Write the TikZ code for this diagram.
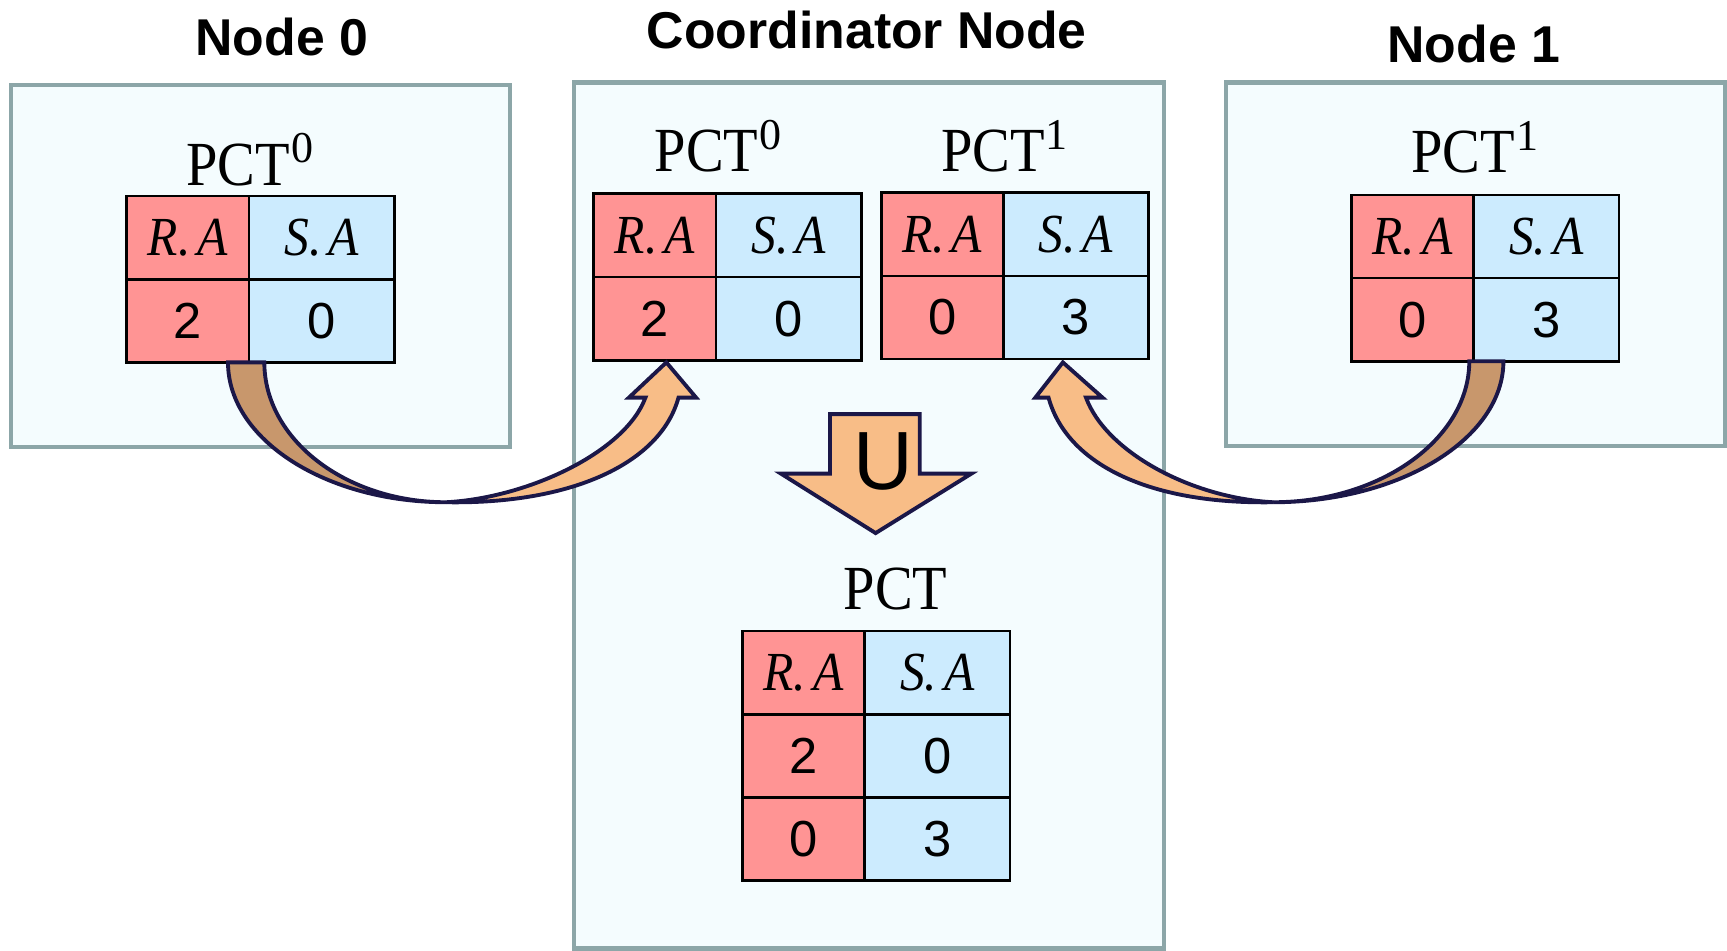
\documentclass[tikz,border=0pt]{standalone}
\usepackage{graphicx}
\usepackage{fontspec}
\newfontfamily\sansfont{Liberation Sans}
\newfontfamily\seriffont{Liberation Serif}
\usetikzlibrary{calc}

\definecolor{boxline}{HTML}{8CA6A8}
\definecolor{boxfill}{HTML}{F4FCFE}
\definecolor{redcell}{HTML}{FF9494}
\definecolor{bluecell}{HTML}{CCEBFE}
\definecolor{arrowfront}{HTML}{F8BD87}
\definecolor{arrowback}{HTML}{C8976C}
\definecolor{arrowline}{HTML}{1B1748}

\tikzset{
  nodebox/.style={draw=boxline, fill=boxfill, line width=4pt, inner sep=0pt, outer sep=0pt},
  title/.style={font=\sansfont\bfseries\fontsize{47}{50}\selectfont, anchor=base, inner sep=0pt},
  tlabel/.style={font=\seriffont\fontsize{57}{60}\selectfont, anchor=base, inner sep=0pt},
  cell/.style={draw=black, line width=2.5pt, inner sep=0pt, outer sep=0pt, minimum height=75.5pt},
  rcell/.style={cell, fill=redcell, minimum width=111pt},
  scell/.style={cell, fill=bluecell, minimum width=132pt},
  numtext/.style={font=\sansfont\fontsize{46}{50}\selectfont},
  blockarrow/.style={draw=arrowline, line width=3.5pt},
}

% attribute header such as R.A
\newcommand\attr[1]{\seriffont\fontsize{50}{52}\selectfont\scalebox{0.9}[1]{\itshape #1.\kern0.14em A}}
% table caption PCT with a raised index
\newcommand\pctname[1]{\scalebox{0.9}[1]{PCT}\raisebox{0.36em}{\fontsize{40}{42}\selectfont\kern0.03em #1}}

% two-column table: prefix, left x, top y, value rows a/b,...
\newcommand\pcttable[4]{%
  \node[rcell] (#1-ha) at ({#2+55.5},{#3+37.75}) {\attr{R}};
  \node[scell] (#1-hb) at ({#2+177},{#3+37.75}) {\attr{S}};
  \foreach \va/\vb [count=\i] in {#4} {
    \node[rcell, numtext] (#1-a\i) at ({#2+55.5},{#3+37.75+75.5*\i}) {\va};
    \node[scell, numtext] (#1-b\i) at ({#2+177},{#3+37.75+75.5*\i}) {\vb};
  }%
}

\begin{document}
\begin{tikzpicture}[x=1pt, y=-1pt]
\useasboundingbox (0,0) rectangle (1568,863);
\fill[white] (0,0) rectangle (1568,863);

% machine boxes
\node[nodebox, minimum width=453pt, minimum height=329pt] (box0) at (236.5,241.5) {};
\node[nodebox, minimum width=536pt, minimum height=786pt] (boxc) at (789,468) {};
\node[nodebox, minimum width=453pt, minimum height=330pt] (box1) at (1339.5,240) {};

% titles
\node[title] (t0) at (255.8,50) {Node 0};
\node[title] (tc) at (787,44) {Coordinator Node};
\node[title] (t1) at (1338,56.5) {Node 1};

% table captions
\node[tlabel] (p0) at (227,168) {\pctname{0}};
\node[tlabel] (pc0) at (652,156) {\pctname{0}};
\node[tlabel] (pc1) at (912,156) {\pctname{1}};
\node[tlabel] (p1) at (1339,157) {\pctname{1}};
\node[tlabel] (pu) at (813,553) {\scalebox{0.9}[1]{PCT}};

% tables
\pcttable{n0}{115}{178}{2/0}
\pcttable{c0}{539}{176}{2/0}
\pcttable{c1}{800}{175}{0/3}
\pcttable{n1}{1227}{177}{0/3}
\pcttable{cu}{674}{573}{2/0,0/3}

% union block arrow
\draw[blockarrow, fill=arrowfront] (753.6,376) -- (835,376) -- (835,430) -- (882,430)
  -- (795,484) -- (709,430) -- (753.6,430) -- cycle;
\node[font=\sansfont\fontsize{75}{80}\selectfont, anchor=base, inner sep=0pt] (uop) at (802,444) {U};

% curved arrow from Node 0 to the coordinator
\draw[blockarrow, fill=arrowback] (207,329) .. controls (207,399) and (296,456) .. (405,456)
  .. controls (314,456) and (240,399) .. (240,329) -- cycle;
\draw[blockarrow, fill=arrowfront] (405,456) .. controls (520,458) and (600,420) .. (616,361)
  -- (632,361) -- (605,329) -- (571,361) -- (586,361)
  .. controls (568,410) and (480,452) .. (405,456) -- cycle;

% curved arrow from Node 1 to the coordinator
\draw[blockarrow, fill=arrowback] (1365,328) .. controls (1365,398) and (1271,456) .. (1156,456)
  .. controls (1254,456) and (1334,398) .. (1334,328) -- cycle;
\draw[blockarrow, fill=arrowfront] (1156,456) .. controls (1041,458) and (968,420) .. (952,361)
  -- (940,361) -- (965,329) -- (1001,361) -- (986,361)
  .. controls (1004,410) and (1081,452) .. (1156,456) -- cycle;
\end{tikzpicture}
\end{document}
